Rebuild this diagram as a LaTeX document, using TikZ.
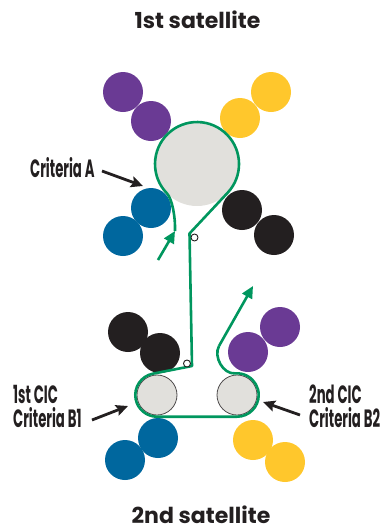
\documentclass[tikz,border=0pt]{standalone}
\usepackage{fontspec}
\setmainfont{Poppins}
\newfontfamily\labfont[FakeStretch=0.53]{Poppins}
\newfontfamily\titfont{Poppins}
\usetikzlibrary{arrows.meta}
\definecolor{cpurple}{HTML}{6A3A94}
\definecolor{cyellow}{HTML}{FFC72C}
\definecolor{cblue}{HTML}{00679E}
\definecolor{cblack}{HTML}{231F20}
\definecolor{cgray}{HTML}{E1E0DC}
\definecolor{cgreen}{HTML}{00965E}
\begin{document}
\begin{tikzpicture}[x=1pt,y=-1pt,
  ball/.style={circle,fill=#1,minimum size=40pt,inner sep=0pt},
  bigdrum/.style={circle,fill=cgray,minimum size=84pt,inner sep=0pt},
  drum/.style={circle,fill=cgray,draw=cblack!80,line width=0.8pt,minimum size=40pt,inner sep=0pt},
  idler/.style={circle,fill=white,draw=cblack,line width=0.9pt,minimum size=7pt,inner sep=0pt},
  gline/.style={draw=cgreen,line width=2.6pt,line join=round},
  garrow/.style={gline,-{Triangle[length=12pt,width=11pt]}},
  barrow/.style={draw=cblack,line width=2.8pt,-{Stealth[length=12pt,width=11pt,inset=2pt]}},
  lab/.style={anchor=base west,inner sep=0pt,font=\labfont\bfseries\fontsize{25}{25}\selectfont,text=cblack},
  tit/.style={anchor=base,inner sep=0pt,font=\titfont\bfseries\fontsize{22}{22}\selectfont,text=cblack}]
\useasboundingbox (0,0) rectangle (389,531);
% titles
\node[tit] (t1) at (197.5,28) {1st satellite};
\node[tit] (t2) at (201,523.5) {2nd satellite};
% top satellite
\node[ball=cpurple] (p1) at (123,92) {};
\node[ball=cpurple] (p2) at (151,121) {};
\node[ball=cyellow] (y1) at (271,92) {};
\node[ball=cyellow] (y2) at (240,118) {};
\node[ball=cblue] (b1) at (151,208) {};
\node[ball=cblue] (b2) at (123,236) {};
\node[ball=cblack] (k1) at (242,210) {};
\node[ball=cblack] (k2) at (274,235) {};
\node[bigdrum] (D) at (197,164) {};
% bottom satellite
\node[ball=cblack] (k3) at (128,332) {};
\node[ball=cblack] (k4) at (160,353) {};
\node[ball=cpurple] (p3) at (280,327) {};
\node[ball=cpurple] (p4) at (248,352) {};
\node[ball=cblue] (b3) at (158,438) {};
\node[ball=cblue] (b4) at (125,460) {};
\node[ball=cyellow] (y3) at (253,440) {};
\node[ball=cyellow] (y4) at (285,462) {};
\node[drum] (L) at (157,395) {};
\node[drum] (R) at (237,395) {};
% web path
\coordinate (s0) at (158,260);
\coordinate (s1) at (175,231);
\coordinate (e1) at (253,286);
\draw[garrow] (s0) -- (s1);
\draw[gline] (s1) .. controls (175.5,218) and (172.4,199) .. (166.8,193.2)
  arc[start angle=136,end angle=403,radius=42]
  -- (189.5,233.5) -- (192,366) -- (152.8,373.7)
  arc[start angle=258.9,end angle=90,radius=21.7]
  -- (237,416.7)
  arc[start angle=90,end angle=-95,radius=21.7]
  .. controls (223,374.4) and (213.2,356.5) .. (219,346);
\draw[garrow] (219,346) -- (e1);
\node[idler] (i1) at (194.5,237.5) {};
\node[idler] (i2) at (187,363.5) {};
% labels
\node[lab] (la) at (30,177) {Criteria A};
\node[lab] (lb1) at (13,403) {1st CIC};
\node[lab] (lb2) at (13,427) {Criteria B1};
\node[lab] (lc1) at (309,403) {2nd CIC};
\node[lab] (lc2) at (309,427) {Criteria B2};
\coordinate (aA0) at (102,171);
\coordinate (aA1) at (143,186);
\coordinate (aB0) at (92,420);
\coordinate (aB1) at (128,406);
\coordinate (aC0) at (300,415);
\coordinate (aC1) at (263,402);
\draw[barrow] (aA0) -- (aA1);
\draw[barrow] (aB0) -- (aB1);
\draw[barrow] (aC0) -- (aC1);
\end{tikzpicture}
\end{document}
